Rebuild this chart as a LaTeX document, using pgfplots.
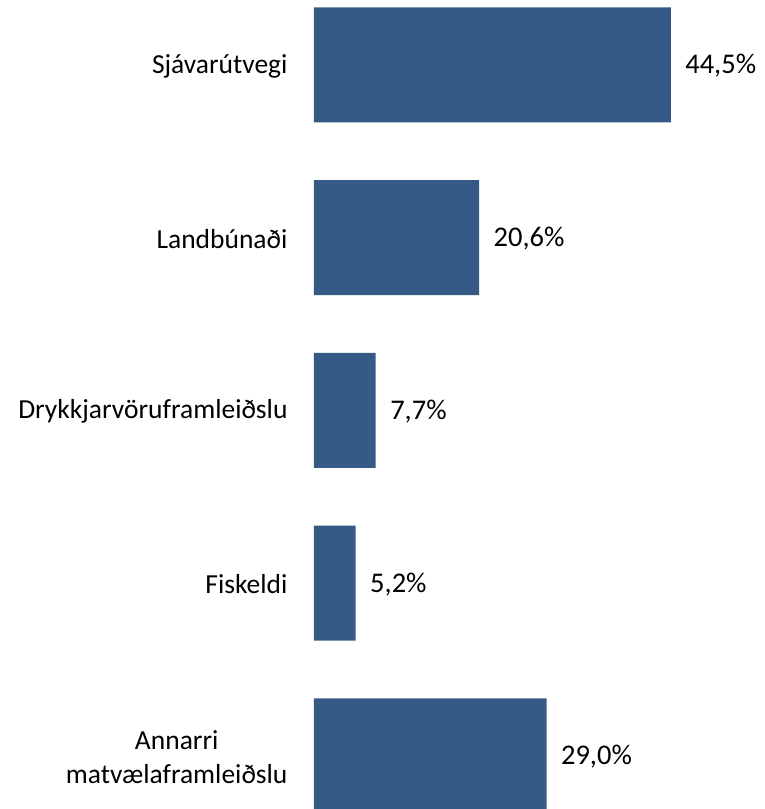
\documentclass[border=0pt]{standalone}
\usepackage{fontspec}
\setmainfont{Carlito}
\usepackage{pgfplots}
\pgfplotsset{compat=1.18}
\definecolor{barblue}{HTML}{355A86}
\begin{document}
\begin{tikzpicture}[x=1pt,y=1pt]
\useasboundingbox (0pt,0pt) rectangle (764pt,809pt);
\begin{axis}[
  at={(314pt,0pt)}, anchor=south west,
  scale only axis, width=441pt, height=809pt,
  xbar, bar width=115pt,
  xmin=0, xmax=55,
  ymin=-0.307, ymax=4.376,
  clip=false,
  axis line style={draw=none},
  xtick=\empty,
  ytick={0,1,2,3,4},
  yticklabels={{Annarri\\matvælaframleiðslu},Fiskeldi,Drykkjarvöruframleiðslu,Landbúnaði,Sjávarútvegi},
  yticklabel style={align=center, font=\fontsize{27.5}{34}\selectfont, xshift=-23pt, yshift=-1pt},
  major tick length=0pt,
  /pgf/number format/assume math mode=true,
  nodes near coords={\pgfmathprintnumber[fixed,fixed zerofill,precision=1,use comma]{\pgfplotspointmeta}\%},
  nodes near coords style={font=\fontsize{28.5}{34}\selectfont, anchor=west, xshift=11pt, yshift=-1pt},
]
\addplot[fill=barblue, draw=none] coordinates {(29.0,0) (5.2,1) (7.7,2) (20.6,3) (44.5,4)};
\end{axis}
\end{tikzpicture}
\end{document}
